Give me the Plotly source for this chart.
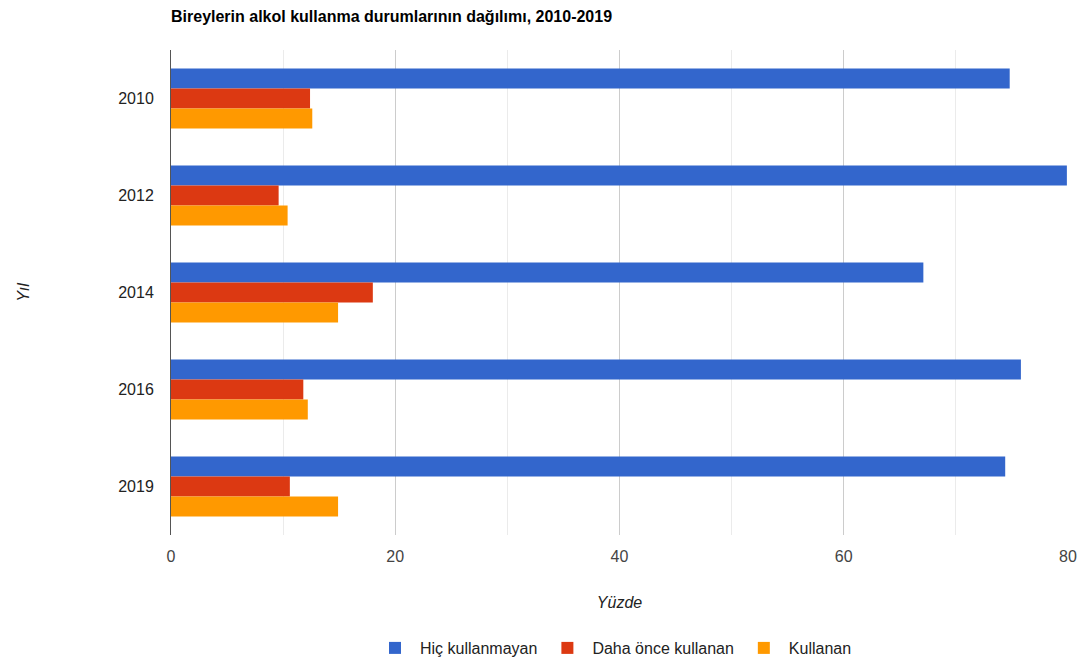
import plotly.graph_objects as go

years = ["2010", "2012", "2014", "2016", "2019"]
hic_kullanmayan = [74.8, 79.9, 67.1, 75.8, 74.4]
daha_once_kullanan = [12.4, 9.6, 18.0, 11.8, 10.6]
kullanan = [12.6, 10.4, 14.9, 12.2, 14.9]

series = [
    ("Hiç kullanmayan", hic_kullanmayan, "#3366cc"),
    ("Daha önce kullanan", daha_once_kullanan, "#dc3912"),
    ("Kullanan", kullanan, "#ff9900"),
]

FONT = "Liberation Sans, Arial, sans-serif"

fig = go.Figure()
for name, vals, color in series:
    fig.add_trace(go.Bar(
        y=years, x=vals, name=name, orientation="h",
        marker=dict(color=color, line=dict(width=0)),
    ))

fig.update_layout(
    width=1080, height=661,
    margin=dict(l=171, r=12, t=50, b=126, autoexpand=False),
    paper_bgcolor="white", plot_bgcolor="white",
    barmode="group", bargap=0.38, bargroupgap=0.0,
    font=dict(family=FONT, size=16, color="#222222"),
    title=dict(
        text="<b>Bireylerin alkol kullanma durumlarının dağılımı, 2010-2019</b>",
        xref="container", yref="container", x=171/1080, xanchor="left",
        y=1 - 16/661, yanchor="middle",
        font=dict(family=FONT, size=16, color="#000000"),
    ),
    xaxis=dict(
        range=[0, 80], dtick=20, tick0=0, automargin=False,
        showgrid=True, gridcolor="#cccccc", gridwidth=1,
        minor=dict(dtick=10, showgrid=True, gridcolor="#ebebeb"),
        zeroline=False, showline=False,
        ticks="", ticklabelstandoff=10,
        tickfont=dict(size=16, color="#444444"),
        title=dict(text="<i>Yüzde</i>", standoff=32,
                   font=dict(size=16, color="#222222")),
    ),
    yaxis=dict(
        type="category", autorange="reversed", automargin=False,
        showgrid=False, zeroline=False,
        showline=True, linecolor="#555555", linewidth=1,
        ticks="", ticklabelstandoff=13,
        tickfont=dict(size=16, color="#222222"),
        title=dict(text="<i>Yıl</i>", standoff=84,
                   font=dict(size=16, color="#222222")),
    ),
    legend=dict(
        orientation="h", x=0.5 - 6/897, xanchor="center",
        xref="paper", yref="container", y=13/661, yanchor="middle",
        font=dict(size=16, color="#222222"),
        itemwidth=40, traceorder="normal",
    ),
    showlegend=True,
)

fig.write_html("out.html")
